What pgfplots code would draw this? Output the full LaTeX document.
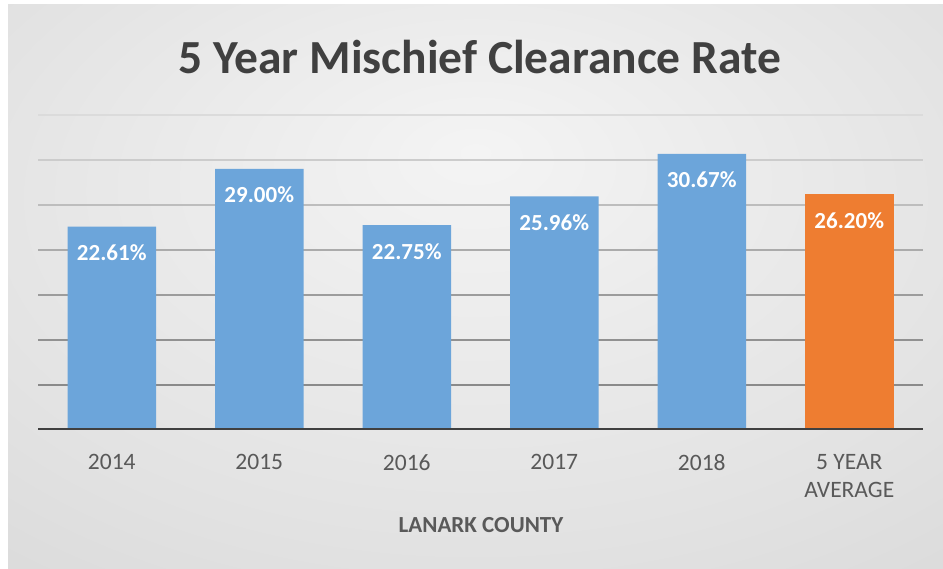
\documentclass[border=0pt]{standalone}
\usepackage{pgfplots}
\pgfplotsset{compat=1.18}
\usepackage{fontspec}
\setmainfont{Carlito}

\definecolor{barblue}{HTML}{6CA5DA}
\definecolor{barorange}{HTML}{EE7D31}
\definecolor{titlegray}{HTML}{404040}
\definecolor{labelgray}{HTML}{595959}
\definecolor{bgin}{HTML}{F4F4F4}
\definecolor{bgmid}{HTML}{E2E2E2}
\definecolor{bgout}{HTML}{C6C6C6}

\pgfdeclareradialshading{bgshade}{\pgfpoint{0bp}{12bp}}{%
  color(0bp)=(bgin); color(30bp)=(bgmid); color(71bp)=(bgout)}

\begin{document}
\begin{tikzpicture}[x=1bp,y=1bp]
% page and gradient background
\fill[white] (0,0) rectangle (943,569);
\shade[shading=bgshade] (8,0) rectangle (943,564);

\begin{axis}[
  at={(38bp,139bp)},
  anchor=south west,
  scale only axis,
  width=885bp,
  height=315bp,
  xmin=-0.5, xmax=5.5,
  ymin=0, ymax=35,
  ytick=\empty,
  xtick={0,...,5},
  xticklabels={2014,2015,2016,2017,2018,{5 YEAR\\AVERAGE}},
  axis x line*=bottom,
  axis y line=none,
  axis line style={draw=none},
  major tick length=0pt,
  xtick style={draw=none},
  xticklabel style={font=\fontsize{23.5bp}{28bp}\selectfont, text=labelgray,
    align=center, anchor=north, yshift=-21bp},
  ybar,
  bar width=0.6,
  bar shift=0pt,
  /pgf/number format/assume math mode=true,
  nodes near coords={\pgfmathprintnumber[fixed,fixed zerofill,precision=2]{\pgfplotspointmeta}\%},
  every node near coord/.append style={font=\bfseries\fontsize{23bp}{27bp}\selectfont,
    text=white, anchor=center, yshift=-26bp},
]
% gridlines, darker towards the bottom as in the original
\draw[line width=1.8bp, color=black!46] (axis cs:-0.5,5) -- (axis cs:5.5,5);
\draw[line width=1.8bp, color=black!43] (axis cs:-0.5,10) -- (axis cs:5.5,10);
\draw[line width=1.8bp, color=black!39] (axis cs:-0.5,15) -- (axis cs:5.5,15);
\draw[line width=1.8bp, color=black!33] (axis cs:-0.5,20) -- (axis cs:5.5,20);
\draw[line width=1.8bp, color=black!26] (axis cs:-0.5,25) -- (axis cs:5.5,25);
\draw[line width=1.8bp, color=black!20] (axis cs:-0.5,30) -- (axis cs:5.5,30);
\draw[line width=1.8bp, color=black!14] (axis cs:-0.5,35) -- (axis cs:5.5,35);
\addplot[fill=barblue, draw=none] coordinates {(0,22.61) (1,29.00) (2,22.75) (3,25.96) (4,30.67)};
\addplot[fill=barorange, draw=none] coordinates {(5,26.20)};
\draw[line width=3bp, titlegray] (axis cs:-0.5,0) -- (axis cs:5.5,0);
\end{axis}

\node[font=\bfseries\fontsize{47.5bp}{52bp}\selectfont, text=titlegray] at (480,512) {5 Year Mischief Clearance Rate};
\node[font=\bfseries\fontsize{23bp}{27bp}\selectfont, text=labelgray] at (481,44) {LANARK COUNTY};
\end{tikzpicture}
\end{document}
